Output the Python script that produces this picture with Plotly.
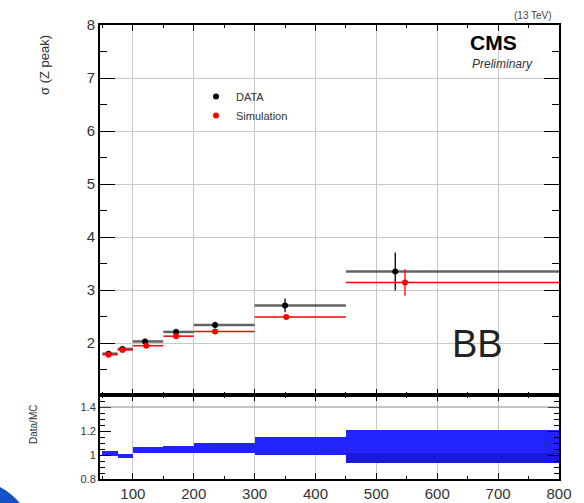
import plotly.graph_objects as go

# ---------------- data ----------------
bin_lo = [50, 75, 100, 150, 200, 300, 450]
bin_hi = [75, 100, 150, 200, 300, 450, 800]

data_x = [60, 83, 120, 171, 235, 350, 531]
data_y = [1.80, 1.89, 2.03, 2.21, 2.34, 2.71, 3.35]
data_err = [0.04, 0.04, 0.05, 0.06, 0.06, 0.13, 0.36]

sim_x = [60, 83, 122, 171, 235, 352, 547]
sim_y = [1.78, 1.87, 1.95, 2.13, 2.22, 2.49, 3.14]
sim_err = [0.03, 0.03, 0.04, 0.04, 0.05, 0.05, 0.25]

ratio_lo = [0.995, 0.975, 1.02, 1.02, 1.02, 1.00, 0.93]
ratio_hi = [1.03, 1.005, 1.065, 1.075, 1.10, 1.15, 1.21]

core_lo = [0.93]
core_hi = [1.02]
core_bins = [6]

W, H = 584, 503


def px_x(p):
    return p / W


def px_y(p):
    return 1 - p / H


fig = go.Figure()

# DATA
fig.add_trace(go.Scatter(
    x=data_x, y=data_y, mode="markers", name="DATA",
    marker=dict(color="black", size=6),
    error_y=dict(type="data", array=data_err, color="black", thickness=1.3, width=0),
    error_x=dict(type="data", symmetric=False,
                 array=[h - x for h, x in zip(bin_hi, data_x)],
                 arrayminus=[x - l for l, x in zip(bin_lo, data_x)],
                 color="rgba(60,60,60,0.8)", thickness=2.5, width=0),
    xaxis="x", yaxis="y",
))
# Simulation
fig.add_trace(go.Scatter(
    x=sim_x, y=sim_y, mode="markers", name="Simulation",
    marker=dict(color="red", size=6),
    error_y=dict(type="data", array=sim_err, color="red", thickness=1.3, width=0),
    error_x=dict(type="data", symmetric=False,
                 array=[h - x for h, x in zip(bin_hi, sim_x)],
                 arrayminus=[x - l for l, x in zip(bin_lo, sim_x)],
                 color="red", thickness=1.5, width=0),
    xaxis="x", yaxis="y",
))

# Ratio band
centers = [(l + h) / 2 for l, h in zip(bin_lo, bin_hi)]
widths = [h - l for l, h in zip(bin_lo, bin_hi)]
fig.add_trace(go.Bar(
    x=centers, y=[h - l for l, h in zip(ratio_lo, ratio_hi)], base=ratio_lo,
    width=widths, marker=dict(color="rgb(35,35,255)", line=dict(width=0)),
    showlegend=False, xaxis="x2", yaxis="y2",
))
fig.add_trace(go.Bar(
    x=[centers[i] for i in core_bins],
    y=[h - l for l, h in zip(core_lo, core_hi)], base=core_lo,
    width=[widths[i] for i in core_bins],
    marker=dict(color="rgb(25,25,215)", line=dict(width=0)),
    showlegend=False, xaxis="x2", yaxis="y2",
))

xdom = [px_x(100), px_x(559)]
axis_common = dict(showline=True, linecolor="black", linewidth=2, mirror="ticks",
                   ticks="inside", tickcolor="black", zeroline=False,
                   showgrid=True, gridcolor="#c8c8c8", gridwidth=1, automargin=False)

fig.update_layout(
    width=W, height=H, autosize=False, margin=dict(l=0, r=0, t=0, b=0, pad=0),
    paper_bgcolor="white", plot_bgcolor="white",
    barmode="overlay", bargap=0,
    font=dict(family="Liberation Sans, Arial, sans-serif", color="#333"),
    xaxis=dict(domain=xdom, range=[46, 800], anchor="y", dtick=100, tick0=0,
               showticklabels=False, ticklen=6,
               minor=dict(dtick=50, ticklen=3, ticks="inside", tickcolor="black"),
               **axis_common),
    yaxis=dict(domain=[px_y(395), px_y(25)], range=[1.02, 8], anchor="x",
               dtick=1, tick0=0, ticklen=15,
               tickfont=dict(size=15, color="#333"),
               minor=dict(dtick=0.5, ticklen=7, ticks="inside", tickcolor="black"),
               **axis_common),
    xaxis2=dict(domain=xdom, range=[46, 800], anchor="y2", dtick=100, tick0=0,
                ticklen=6, tickfont=dict(size=15, color="#333"),
                minor=dict(dtick=50, ticklen=3, ticks="inside", tickcolor="black"),
                **axis_common),
    yaxis2=dict(domain=[px_y(479), px_y(395)], range=[0.8, 1.5], anchor="x2",
                tickvals=[0.8, 1.0, 1.2, 1.4], ticktext=["0.8", "1", "1.2", "1.4"],
                ticklen=11, tickfont=dict(size=11, color="#333"),
                minor=dict(dtick=0.05, ticklen=5, ticks="inside", tickcolor="black",
                           showgrid=False),
                showline=True, linecolor="black", linewidth=2, mirror="ticks",
                ticks="inside", tickcolor="black", zeroline=False, showgrid=False,
                automargin=False),
    legend=dict(x=px_x(196), y=px_y(82), xanchor="left", yanchor="top",
                bgcolor="rgba(0,0,0,0)", font=dict(size=11, color="#333"),
                tracegroupgap=0, itemwidth=30),
)

# horizontal line in ratio panel
fig.add_shape(type="line", xref="x2", yref="y2", x0=46, x1=800, y0=1.4, y1=1.4,
              line=dict(color="#888", width=1))

ann = [
    dict(text="σ (Z peak)", x=px_x(45), y=px_y(65), textangle=-90,
         font=dict(size=13, color="#333")),
    dict(text="Data/MC", x=px_x(33), y=px_y(425), textangle=-90,
         font=dict(size=10, color="#333")),
    dict(text="(13 TeV)", x=px_x(533), y=px_y(15), font=dict(size=10, color="#444")),
    dict(text="<b>CMS</b>", x=px_x(493), y=px_y(43), font=dict(size=21, color="black")),
    dict(text="<i>Preliminary</i>", x=px_x(503), y=px_y(64), font=dict(size=12, color="#333")),
    dict(text="BB", x=px_x(477), y=px_y(344), font=dict(size=38, color="#222")),
]
for a in ann:
    fig.add_annotation(xref="paper", yref="paper", showarrow=False,
                       xanchor="center", yanchor="middle", **a)

# decorative blue corner swoosh
fig.add_shape(type="path", xref="paper", yref="paper",
              path=f"M 0 {px_y(487)} Q {px_x(10)} {px_y(492)} {px_x(20)} {px_y(503)} L 0 {px_y(503)} Z",
              fillcolor="rgb(20,80,200)", line=dict(width=0))

fig.write_html("out.html")
